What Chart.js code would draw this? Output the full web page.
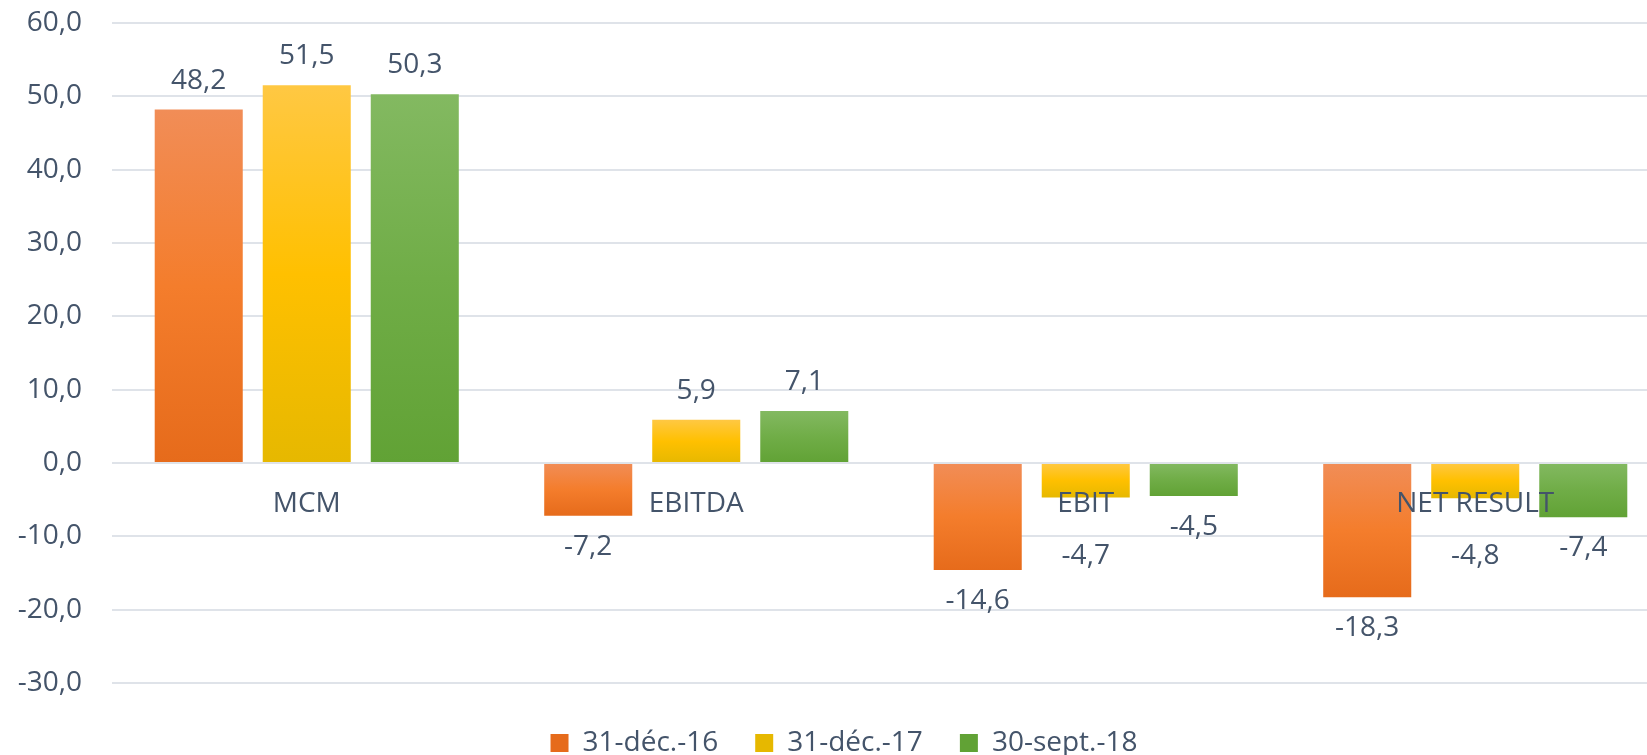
<!DOCTYPE html>
<html>
<head>
<meta charset="utf-8">
<script src="https://cdn.jsdelivr.net/npm/chart.js@4.4.1/dist/chart.umd.min.js"></script>
<style>
  html, body { margin: 0; padding: 0; background: #fff; overflow: hidden; }
  #wrap { position: relative; width: 1647px; height: 755px; overflow: hidden; }
  #chart { display: block; }
</style>
</head>
<body>
<div id="wrap"><canvas id="chart" width="1706" height="767"></canvas></div>
<script>
  /* Data */
  const CATEGORIES = ['MCM', 'EBITDA', 'EBIT', 'NET RESULT'];
  const SERIES_NAMES = ['31-déc.-16', '31-déc.-17', '30-sept.-18'];
  const DEC16 = [48.2, -7.2, -14.6, -18.3];
  const DEC17 = [51.5, 5.9, -4.7, -4.8];
  const SEPT18 = [50.3, 7.1, -4.5, -7.4];
  const Y_MIN = -30, Y_MAX = 60, Y_STEP = 10;

  /* gradient stops per series: top, middle, bottom */
  const PALETTE = [
    ['#F18D57', '#F47D2C', '#E66B1B'],
    ['#FFC843', '#FFC000', '#E6B800'],
    ['#83B961', '#70AD47', '#61A235']
  ];

  const TEXT = '#44546A';
  const FONT = "'Open Sans', 'Noto Sans', sans-serif";

  function fmt(v) { return v.toFixed(1).replace('.', ','); }

  function barFill(si) {
    return function (ctx) {
      const c = PALETTE[si];
      if (ctx.type !== 'data' || !ctx.chart.chartArea) return c[1];
      const y = ctx.chart.scales.y;
      const p0 = y.getPixelForValue(0);
      const p1 = y.getPixelForValue(ctx.parsed.y);
      const g = ctx.chart.ctx.createLinearGradient(0, Math.min(p0, p1), 0, Math.max(p0, p1));
      g.addColorStop(0, c[0]);
      g.addColorStop(0.5, c[1]);
      g.addColorStop(1, c[2]);
      return g;
    };
  }

  /* category names sit under the zero line, values above / below each bar */
  const labelPlugin = {
    id: 'labels',
    afterDatasetsDraw(chart) {
      const ctx = chart.ctx;
      const x = chart.scales.x, y = chart.scales.y;
      ctx.save();
      ctx.font = '28px ' + FONT;
      ctx.fillStyle = TEXT;
      ctx.textAlign = 'center';
      ctx.textBaseline = 'middle';
      const zeroY = y.getPixelForValue(0);
      const catY = zeroY + 41;
      CATEGORIES.forEach(function (c, i) {
        ctx.fillText(c, x.getPixelForValue(i), catY);
      });
      chart.data.datasets.forEach(function (ds, di) {
        chart.getDatasetMeta(di).data.forEach(function (bar, i) {
          const v = ds.data[i];
          let ty = v >= 0 ? bar.y - 29 : bar.y + 31;
          // middle bar label is moved below the category name
          if (v < 0 && di === 1) ty = Math.max(ty, catY + 52);
          ctx.fillText(fmt(v), bar.x, ty);
        });
      });
      ctx.restore();
    }
  };

  const seriesData = [DEC16, DEC17, SEPT18];

  new Chart(document.getElementById('chart'), {
    type: 'bar',
    data: {
      labels: CATEGORIES,
      datasets: SERIES_NAMES.map(function (name, i) {
        return {
          label: name,
          data: seriesData[i],
          backgroundColor: barFill(i),
          borderWidth: 0,
          categoryPercentage: 0.832,
          barPercentage: 0.815
        };
      })
    },
    options: {
      responsive: false,
      animation: false,
      devicePixelRatio: 1,
      layout: { padding: { left: 18, top: 23, right: 36, bottom: 0 } },
      plugins: {
        legend: {
          position: 'bottom',
          labels: {
            color: TEXT,
            font: { family: FONT, size: 28 },
            boxWidth: 18,
            boxHeight: 18,
            padding: 37
          }
        },
        tooltip: { enabled: false }
      },
      scales: {
        x: {
          border: { display: false },
          grid: { display: false },
          ticks: { display: false },
          afterFit: function (s) { s.height = 9; }
        },
        y: {
          min: Y_MIN,
          max: Y_MAX,
          border: { display: false },
          grid: { color: '#DFE3E9', lineWidth: 2, drawTicks: false },
          ticks: {
            stepSize: Y_STEP,
            padding: 30,
            color: TEXT,
            font: { family: FONT, size: 28 },
            callback: function (v) { return fmt(v); }
          },
          afterFit: function (s) {
            s.width = 94;
            s.paddingTop = 0;
            s.paddingBottom = 0;
          }
        }
      }
    },
    plugins: [labelPlugin]
  });
</script>
</body>
</html>
